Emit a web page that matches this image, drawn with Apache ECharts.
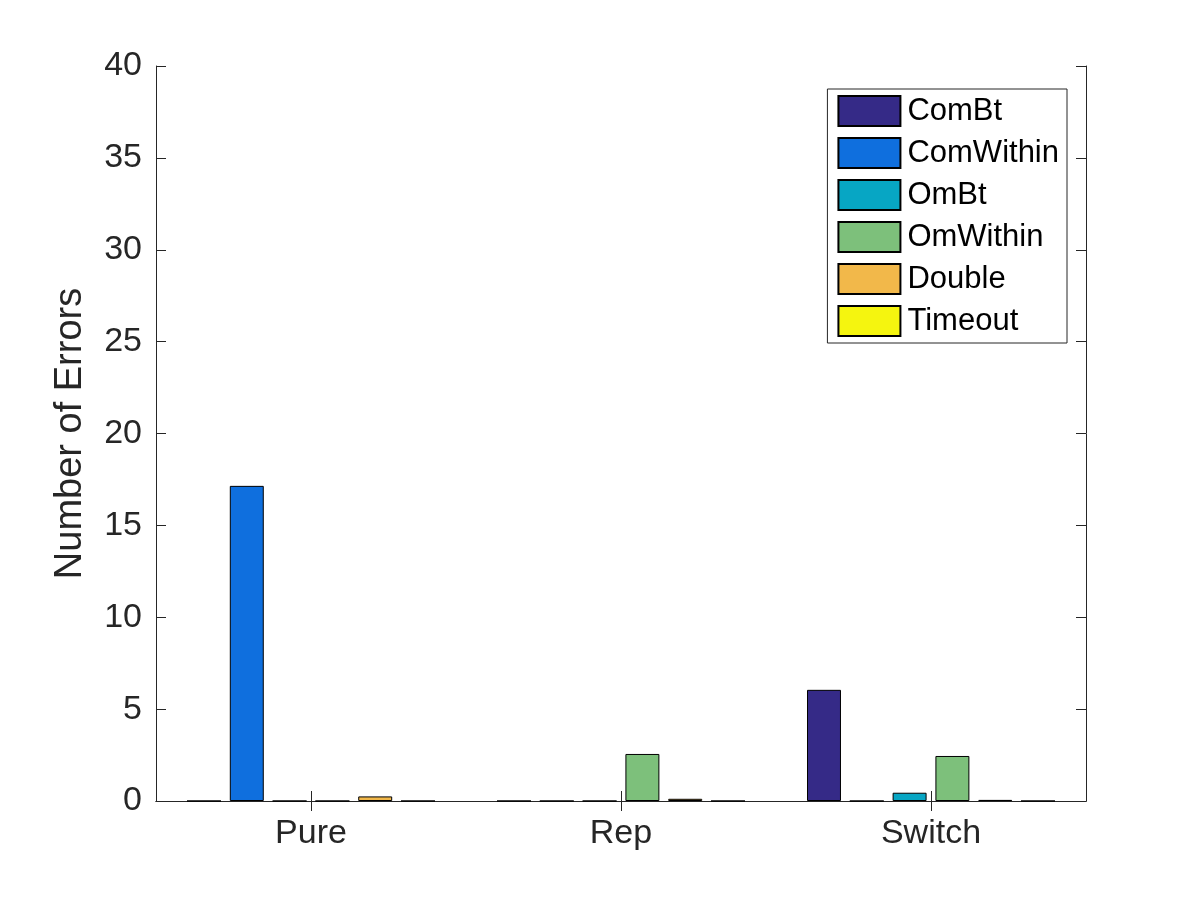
<!DOCTYPE html>
<html><head><meta charset="utf-8">
<script src="https://cdn.jsdelivr.net/npm/echarts@6/dist/echarts.min.js"></script>
<style>html,body{margin:0;background:#fff}#c{width:1200px;height:900px}</style>
</head><body><div id="c"></div>
<script>
const categories = ['Pure', 'Rep', 'Switch'];
const seriesNames = ['ComBt', 'ComWithin', 'OmBt', 'OmWithin', 'Double', 'Timeout'];
const colors = ['#352a87', '#0f6fde', '#07a6c4', '#7dc07b', '#f2b84a', '#f5f50f'];
const comBt = [0, 0, 6.05];
const comWithin = [17.15, 0, 0];
const omBt = [0, 0, 0.45];
const omWithin = [0, 2.56, 2.45];
const double = [0.25, 0.12, 0.06];
const timeout = [0, 0, 0];
const values = [comBt, comWithin, omBt, omWithin, double, timeout];
const yTicks = [0, 5, 10, 15, 20, 25, 30, 35, 40];

const font = 'Helvetica, "Liberation Sans", Arial, sans-serif';
const chart = echarts.init(document.getElementById('c'));
const axisY = (pos) => ({
  type: 'value', min: 0, max: 40, interval: 5, position: pos,
  axisLine: { show: true, lineStyle: { color: '#262626', width: 1 } },
  axisTick: { show: true, inside: true, length: 10, lineStyle: { color: '#262626' } },
  axisLabel: { show: pos === 'left', color: '#262626', fontSize: 34, fontFamily: font, margin: 14 },
  splitLine: { show: false }
});
chart.setOption({
  backgroundColor: '#fff',
  animation: false,
  grid: { left: 156, right: 114, top: 66, bottom: 99 },
  legend: {
    data: seriesNames, orient: 'vertical', right: 133, top: 89,
    itemWidth: 62, itemHeight: 30, itemGap: 10,
    padding: [6, 8, 6, 10], borderColor: '#262626', borderWidth: 1, backgroundColor: '#fff',
    textStyle: { fontSize: 31, fontFamily: font, color: '#000', padding: [0, 0, 0, 2] },
    icon: 'rect'
  },
  xAxis: [
    { type: 'category', data: categories, position: 'bottom',
      axisLine: { lineStyle: { color: '#262626' } },
      axisTick: { show: true, inside: true, alignWithLabel: true, length: 10, lineStyle: { color: '#262626' } },
      axisLabel: { color: '#262626', fontSize: 34, fontFamily: font, margin: 16 } },
    { type: 'category', data: categories, position: 'top',
      axisLine: { lineStyle: { color: '#262626' } },
      axisTick: { show: true, inside: true, alignWithLabel: true, length: 10, lineStyle: { color: '#262626' } },
      axisLabel: { show: false } }
  ],
  yAxis: [
    Object.assign(axisY('left'), { name: 'Number of Errors', nameLocation: 'middle', nameGap: 66,
      nameTextStyle: { color: '#262626', fontSize: 38, fontFamily: font } }),
    axisY('right')
  ],
  series: seriesNames.map((n, i) => ({
    name: n, type: 'bar', data: values[i],
    barCategoryGap: '20%', barGap: '26%',
    itemStyle: { color: colors[i], borderColor: '#000', borderWidth: 1 }
  }))
});
</script></body></html>
